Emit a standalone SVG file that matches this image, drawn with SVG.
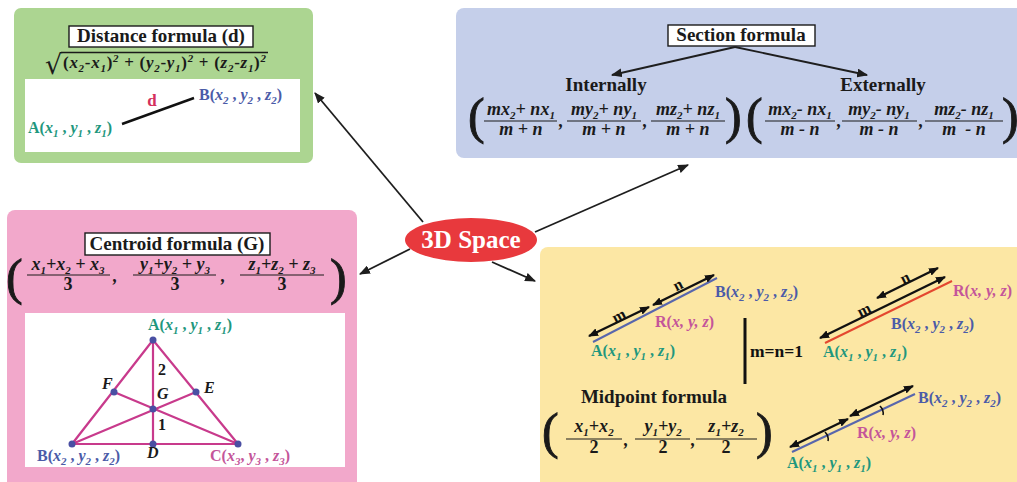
<svg xmlns="http://www.w3.org/2000/svg" width="1017" height="482" viewBox="0 0 1017 482">
<defs>
<style>
.b{font-family:"Liberation Serif","Times New Roman",serif;font-weight:bold}
.ttl{font-size:19px;fill:#1a1a1a}
.lb{font-size:16px}
.v{font-style:italic}
.s{font-size:11px;font-style:italic}
.f{font-family:"Liberation Serif","Times New Roman",serif;font-weight:bold;font-style:italic;font-size:18px;fill:#1a1a1a}
.f3{font-style:normal}
.par{font-family:"Liberation Serif","Times New Roman",serif;font-weight:normal;font-size:50px;fill:#1a1a1a;stroke:#1a1a1a;stroke-width:0.9}
.bar{stroke:#1a1a1a;stroke-width:1.2}
.tb{fill:#fff;stroke:#1a1a1a;stroke-width:1.4}
.ca{fill:#1f977e}
.cb{fill:#4b5ba8}
.cr{fill:#c4559a}
.cd{fill:#d4305e}
.conn line{stroke:#1e1e1e;stroke-width:1.8;marker-end:url(#ah)}
.dbl{stroke:#111;stroke-width:2.4;marker-start:url(#ah2);marker-end:url(#ah2)}
.tri{stroke:#c83a8c;stroke-width:2.2;fill:none}
.dot{fill:#4a4fa3}
</style>
<marker id="ah" viewBox="0 0 10 8" refX="9" refY="4" markerWidth="11" markerHeight="9" markerUnits="userSpaceOnUse" orient="auto"><path d="M0,0 L10,4 L0,8 z" fill="#1e1e1e"/></marker>
<marker id="ah2" viewBox="0 0 10 8" refX="9" refY="4" markerWidth="10" markerHeight="8" markerUnits="userSpaceOnUse" orient="auto-start-reverse"><path d="M0,0 L10,4 L0,8 z" fill="#111"/></marker>
</defs>
<rect width="1017" height="482" fill="#ffffff"/>

<!-- Distance formula node -->
<g id="distance">
<rect x="14" y="8" width="299" height="155" rx="7" fill="#acd591"/>
<rect class="tb" x="69" y="26" width="184" height="21"/>
<text class="b ttl" x="161" y="42" text-anchor="middle">Distance formula (d)</text>
<text x="45" y="74" font-family="DejaVu Serif,serif" font-size="27" fill="#1a1a1a">√</text>
<line x1="61" y1="52.5" x2="268" y2="52.5" stroke="#1a1a1a" stroke-width="1.4"/>
<text class="b" x="63" y="68" font-size="17" fill="#1a1a1a" textLength="203" lengthAdjust="spacing">(<tspan class="v">x</tspan><tspan class="s" dy="4">2</tspan><tspan dy="-4">-</tspan><tspan class="v">x</tspan><tspan class="s" dy="4">1</tspan><tspan dy="-4">)</tspan><tspan class="s" font-style="normal" dy="-6">2</tspan><tspan dy="6"> + (</tspan><tspan class="v">y</tspan><tspan class="s" dy="4">2</tspan><tspan dy="-4">-</tspan><tspan class="v">y</tspan><tspan class="s" dy="4">1</tspan><tspan dy="-4">)</tspan><tspan class="s" font-style="normal" dy="-6">2</tspan><tspan dy="6"> + (</tspan><tspan class="v">z</tspan><tspan class="s" dy="4">2</tspan><tspan dy="-4">-</tspan><tspan class="v">z</tspan><tspan class="s" dy="4">1</tspan><tspan dy="-4">)</tspan><tspan class="s" font-style="normal" dy="-6">2</tspan></text>
<rect x="25" y="79" width="275" height="73" fill="#ffffff"/>
<line x1="122" y1="124" x2="194" y2="98" stroke="#111" stroke-width="2.4"/>
<text class="b cd" x="152" y="106" font-size="17" text-anchor="middle">d</text>
<text class="b lb ca" x="28" y="133">A(<tspan class="v">x</tspan><tspan class="s" dy="4">1</tspan><tspan dy="-4"> , </tspan><tspan class="v">y</tspan><tspan class="s" dy="4">1</tspan><tspan dy="-4"> , </tspan><tspan class="v">z</tspan><tspan class="s" dy="4">1</tspan><tspan dy="-4">)</tspan></text>
<text class="b lb cb" x="199" y="100">B(<tspan class="v">x</tspan><tspan class="s" dy="4">2</tspan><tspan dy="-4"> , </tspan><tspan class="v">y</tspan><tspan class="s" dy="4">2</tspan><tspan dy="-4"> , </tspan><tspan class="v">z</tspan><tspan class="s" dy="4">2</tspan><tspan dy="-4">)</tspan></text>
</g>

<!-- Section formula node -->
<g id="section">
<rect x="456" y="8" width="580" height="150" rx="8" fill="#c5cfea"/>
<rect class="tb" x="668" y="25" width="147" height="21"/>
<text class="b ttl" x="741" y="41" text-anchor="middle">Section formula</text>
<text class="b ttl" x="606" y="91" text-anchor="middle">Internally</text>
<text class="b ttl" x="883" y="91" text-anchor="middle">Externally</text>
<!-- internal -->
<text class="par" x="468" y="133">(</text>
<text class="f" x="521" y="115" text-anchor="middle">mx<tspan class="s" dy="4">2</tspan><tspan dy="-4">+ nx</tspan><tspan class="s" dy="4">1</tspan></text>
<line class="bar" x1="484" y1="121" x2="557" y2="121"/>
<text class="f" x="521" y="135" text-anchor="middle">m + n</text>
<text class="f" x="559" y="127">,</text>
<text class="f" x="604" y="115" text-anchor="middle">my<tspan class="s" dy="4">2</tspan><tspan dy="-4">+ ny</tspan><tspan class="s" dy="4">1</tspan></text>
<line class="bar" x1="567" y1="121" x2="641" y2="121"/>
<text class="f" x="604" y="135" text-anchor="middle">m + n</text>
<text class="f" x="643" y="127">,</text>
<text class="f" x="688" y="115" text-anchor="middle">mz<tspan class="s" dy="4">2</tspan><tspan dy="-4">+ nz</tspan><tspan class="s" dy="4">1</tspan></text>
<line class="bar" x1="651" y1="121" x2="725" y2="121"/>
<text class="f" x="688" y="135" text-anchor="middle">m + n</text>
<text class="par" x="725" y="133">)</text>
<!-- external -->
<text class="par" x="746" y="133">(</text>
<text class="f" x="800" y="115" text-anchor="middle">mx<tspan class="s" dy="4">2</tspan><tspan dy="-4">- nx</tspan><tspan class="s" dy="4">1</tspan></text>
<line class="bar" x1="765" y1="121" x2="835" y2="121"/>
<text class="f" x="800" y="135" text-anchor="middle">m - n</text>
<text class="f" x="837" y="127">,</text>
<text class="f" x="879" y="115" text-anchor="middle">my<tspan class="s" dy="4">2</tspan><tspan dy="-4">- ny</tspan><tspan class="s" dy="4">1</tspan></text>
<line class="bar" x1="842" y1="121" x2="917" y2="121"/>
<text class="f" x="879" y="135" text-anchor="middle">m - n</text>
<text class="f" x="919" y="127">,</text>
<text class="f" x="964" y="115" text-anchor="middle">mz<tspan class="s" dy="4">2</tspan><tspan dy="-4">- nz</tspan><tspan class="s" dy="4">1</tspan></text>
<line class="bar" x1="925" y1="121" x2="1003" y2="121"/>
<text class="f" x="964" y="135" text-anchor="middle" xml:space="preserve">m  - n</text>
<text class="par" x="1002" y="133">)</text>
</g>

<!-- Centroid node -->
<g id="centroid">
<rect x="7" y="210" width="350" height="290" rx="8" fill="#f2a8cb"/>
<rect class="tb" x="85" y="233" width="185" height="22"/>
<text class="b ttl" x="177" y="250" text-anchor="middle">Centroid formula (G)</text>
<text class="par" x="6" y="294">(</text>
<text class="f" x="68" y="270" text-anchor="middle">x<tspan class="s" dy="4">1</tspan><tspan dy="-4">+x</tspan><tspan class="s" dy="4">2</tspan><tspan dy="-4"> + x</tspan><tspan class="s" dy="4">3</tspan></text>
<line class="bar" x1="27" y1="275" x2="110" y2="275"/>
<text class="f f3" x="68" y="290" text-anchor="middle">3</text>
<text class="f" x="113" y="282">,</text>
<text class="f" x="175" y="270" text-anchor="middle">y<tspan class="s" dy="4">1</tspan><tspan dy="-4">+y</tspan><tspan class="s" dy="4">2</tspan><tspan dy="-4"> + y</tspan><tspan class="s" dy="4">3</tspan></text>
<line class="bar" x1="133" y1="275" x2="216" y2="275"/>
<text class="f f3" x="175" y="290" text-anchor="middle">3</text>
<text class="f" x="221" y="282">,</text>
<text class="f" x="282" y="270" text-anchor="middle">z<tspan class="s" dy="4">1</tspan><tspan dy="-4">+z</tspan><tspan class="s" dy="4">2</tspan><tspan dy="-4"> + z</tspan><tspan class="s" dy="4">3</tspan></text>
<line class="bar" x1="240" y1="275" x2="324" y2="275"/>
<text class="f f3" x="282" y="290" text-anchor="middle">3</text>
<text class="par" x="330" y="294">)</text>
<rect x="25" y="313" width="320" height="154" fill="#ffffff"/>
<path class="tri" d="M153,340 L72,444 L238,444 Z M153,340 L153,444 M72,444 L196,392 M238,444 L114,392"/>
<circle class="dot" cx="153" cy="340" r="3.5"/>
<circle class="dot" cx="72" cy="444" r="3.5"/>
<circle class="dot" cx="238" cy="444" r="3.5"/>
<circle class="dot" cx="153" cy="444" r="3.5"/>
<circle class="dot" cx="114" cy="392" r="3.5"/>
<circle class="dot" cx="196" cy="392" r="3.5"/>
<circle class="dot" cx="153" cy="409" r="3.5"/>
<text class="b lb ca" x="148" y="330">A(<tspan class="v">x</tspan><tspan class="s" dy="4">1</tspan><tspan dy="-4"> , </tspan><tspan class="v">y</tspan><tspan class="s" dy="4">1</tspan><tspan dy="-4"> , </tspan><tspan class="v">z</tspan><tspan class="s" dy="4">1</tspan><tspan dy="-4">)</tspan></text>
<text class="b lb cb" x="37" y="461">B(<tspan class="v">x</tspan><tspan class="s" dy="4">2</tspan><tspan dy="-4"> , </tspan><tspan class="v">y</tspan><tspan class="s" dy="4">2</tspan><tspan dy="-4"> , </tspan><tspan class="v">z</tspan><tspan class="s" dy="4">2</tspan><tspan dy="-4">)</tspan></text>
<text class="b lb cr" x="210" y="461">C(<tspan class="v">x</tspan><tspan class="s" dy="4">3</tspan><tspan dy="-4">, </tspan><tspan class="v">y</tspan><tspan class="s" dy="4">3</tspan><tspan dy="-4"> , </tspan><tspan class="v">z</tspan><tspan class="s" dy="4">3</tspan><tspan dy="-4">)</tspan></text>
<text class="b" x="158" y="375" font-size="16" fill="#1a1a1a">2</text>
<text class="b" x="158" y="430" font-size="16" fill="#1a1a1a">1</text>
<text class="b v" x="157" y="399" font-size="16" fill="#1a1a1a">G</text>
<text class="b v" x="102" y="389" font-size="16" fill="#1a1a1a">F</text>
<text class="b v" x="204" y="393" font-size="16" fill="#1a1a1a">E</text>
<text class="b v" x="147" y="458" font-size="16" fill="#1a1a1a">D</text>
</g>

<!-- Midpoint / yellow node -->
<g id="midpoint">
<rect x="540" y="247" width="490" height="250" rx="8" fill="#fce7a4"/>
<!-- internal diagram -->
<line x1="593" y1="342" x2="717" y2="278" stroke="#5866ad" stroke-width="2"/>
<line class="dbl" x1="589" y1="336" x2="649" y2="307"/>
<line class="dbl" x1="653" y1="305" x2="714" y2="275"/>
<text class="b" x="619" y="321" font-size="16" fill="#111" text-anchor="middle" transform="rotate(-27 619 316)">m</text>
<text class="b" x="678" y="290" font-size="16" fill="#111" text-anchor="middle" transform="rotate(-27 678 285)">n</text>
<text class="b lb cb" x="715" y="297">B(<tspan class="v">x</tspan><tspan class="s" dy="4">2</tspan><tspan dy="-4"> , </tspan><tspan class="v">y</tspan><tspan class="s" dy="4">2</tspan><tspan dy="-4"> , </tspan><tspan class="v">z</tspan><tspan class="s" dy="4">2</tspan><tspan dy="-4">)</tspan></text>
<text class="b lb cr" x="655" y="327">R(<tspan class="v">x, y, z</tspan>)</text>
<text class="b lb ca" x="591" y="356">A(<tspan class="v">x</tspan><tspan class="s" dy="4">1</tspan><tspan dy="-4"> , </tspan><tspan class="v">y</tspan><tspan class="s" dy="4">1</tspan><tspan dy="-4"> , </tspan><tspan class="v">z</tspan><tspan class="s" dy="4">1</tspan><tspan dy="-4">)</tspan></text>
<line x1="745" y1="318" x2="745" y2="384" stroke="#111" stroke-width="3"/>
<text class="b" x="750" y="357" font-size="17.5" fill="#111">m=n=1</text>
<!-- external diagram -->
<line x1="825" y1="343" x2="952" y2="281" stroke="#e4472f" stroke-width="2"/>
<line class="dbl" x1="820" y1="338" x2="945" y2="277"/>
<line class="dbl" x1="877" y1="298" x2="938" y2="268"/>
<text class="b" x="864" y="315" font-size="16" fill="#111" text-anchor="middle" transform="rotate(-26 864 310)">m</text>
<text class="b" x="905" y="283" font-size="16" fill="#111" text-anchor="middle" transform="rotate(-26 905 278)">n</text>
<text class="b lb cr" x="953" y="296">R(<tspan class="v">x, y, z</tspan>)</text>
<text class="b lb cb" x="891" y="329">B(<tspan class="v">x</tspan><tspan class="s" dy="4">2</tspan><tspan dy="-4"> , </tspan><tspan class="v">y</tspan><tspan class="s" dy="4">2</tspan><tspan dy="-4"> , </tspan><tspan class="v">z</tspan><tspan class="s" dy="4">2</tspan><tspan dy="-4">)</tspan></text>
<text class="b lb ca" x="823" y="357">A(<tspan class="v">x</tspan><tspan class="s" dy="4">1</tspan><tspan dy="-4"> , </tspan><tspan class="v">y</tspan><tspan class="s" dy="4">1</tspan><tspan dy="-4"> , </tspan><tspan class="v">z</tspan><tspan class="s" dy="4">1</tspan><tspan dy="-4">)</tspan></text>
<!-- midpoint formula -->
<text class="b ttl" x="654" y="403" text-anchor="middle">Midpoint formula</text>
<text class="par" x="542" y="448">(</text>
<text class="f" x="594" y="432" text-anchor="middle">x<tspan class="s" dy="4">1</tspan><tspan dy="-4">+x</tspan><tspan class="s" dy="4">2</tspan></text>
<line class="bar" x1="566" y1="439" x2="622" y2="439"/>
<text class="f f3" x="594" y="453" text-anchor="middle">2</text>
<text class="f" x="624" y="446">,</text>
<text class="f" x="663" y="432" text-anchor="middle">y<tspan class="s" dy="4">1</tspan><tspan dy="-4">+y</tspan><tspan class="s" dy="4">2</tspan></text>
<line class="bar" x1="635" y1="439" x2="690" y2="439"/>
<text class="f f3" x="663" y="453" text-anchor="middle">2</text>
<text class="f" x="691" y="446">,</text>
<text class="f" x="726" y="432" text-anchor="middle">z<tspan class="s" dy="4">1</tspan><tspan dy="-4">+z</tspan><tspan class="s" dy="4">2</tspan></text>
<line class="bar" x1="696" y1="439" x2="757" y2="439"/>
<text class="f f3" x="726" y="453" text-anchor="middle">2</text>
<text class="par" x="756" y="448">)</text>
<!-- midpoint diagram -->
<line x1="792" y1="452" x2="915" y2="394" stroke="#5866ad" stroke-width="2"/>
<line class="dbl" x1="790" y1="447" x2="848" y2="419"/>
<line class="dbl" x1="850" y1="416" x2="913" y2="386"/>
<path d="M825,432 Q829,436 828,441 M880,406 Q884,410 883,415" stroke="#111" stroke-width="1.6" fill="none"/>
<text class="b lb cb" x="918" y="403">B(<tspan class="v">x</tspan><tspan class="s" dy="4">2</tspan><tspan dy="-4"> , </tspan><tspan class="v">y</tspan><tspan class="s" dy="4">2</tspan><tspan dy="-4"> , </tspan><tspan class="v">z</tspan><tspan class="s" dy="4">2</tspan><tspan dy="-4">)</tspan></text>
<text class="b lb cr" x="857" y="438">R(<tspan class="v">x, y, z</tspan>)</text>
<text class="b lb ca" x="787" y="468">A(<tspan class="v">x</tspan><tspan class="s" dy="4">1</tspan><tspan dy="-4"> , </tspan><tspan class="v">y</tspan><tspan class="s" dy="4">1</tspan><tspan dy="-4"> , </tspan><tspan class="v">z</tspan><tspan class="s" dy="4">1</tspan><tspan dy="-4">)</tspan></text>
</g>

<!-- Connectors -->
<g id="connectors" class="conn">
<line x1="423" y1="222" x2="315" y2="93"/>
<line x1="410" y1="249" x2="360" y2="274"/>
<line x1="492" y1="262" x2="535" y2="281"/>
<line x1="535" y1="232" x2="688" y2="165"/>
<line x1="735" y1="47" x2="612" y2="75"/>
<line x1="735" y1="47" x2="867" y2="75"/>
</g>

<!-- Center node -->
<g id="space3d">
<ellipse cx="471" cy="240" rx="66" ry="22" fill="#e8393d"/>
<text class="b" x="471" y="248" font-size="25" fill="#ffffff" text-anchor="middle">3D Space</text>
</g>
</svg>
